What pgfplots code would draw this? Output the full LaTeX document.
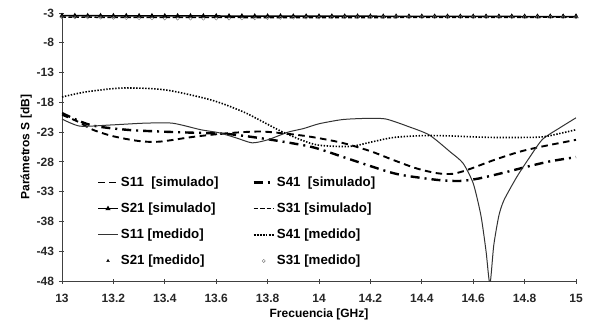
\documentclass[border=0pt]{standalone}
\usepackage{fontspec}
\setmainfont{Liberation Sans}
\usepackage{pgfplots}
\pgfplotsset{compat=1.18}
\begin{document}
\begin{tikzpicture}
\begin{axis}[
  scale only axis, width=514pt, height=268pt,
  xmin=13, xmax=15, ymin=-48, ymax=-3,
  axis x line*=bottom, axis y line*=left,
  axis line style={-, draw=black!75, line width=0.8pt},
  xtick={13,13.2,13.4,13.6,13.8,14,14.2,14.4,14.6,14.8,15},
  ytick={-48,-43,-38,-33,-28,-23,-18,-13,-8,-3},
  tick align=center, major tick length=5pt,
  tick style={draw=black!75, line width=0.8pt},
  ticklabel style={font=\fontsize{12}{14}\selectfont\bfseries, text=black!85},
  /pgf/number format/assume math mode=true,
  xticklabel style={yshift=-7pt},
  yticklabel style={xshift=-2pt},
  xlabel={Frecuencia [GHz]},
  ylabel={Parámetros S [dB]},
  label style={font=\fontsize{12}{14}\selectfont\bfseries},
  xlabel style={yshift=1pt},
  ylabel style={yshift=-2pt},
  clip=true,
  legend columns=2,
  legend cell align=left,
  legend style={draw=none, fill=none, at={(0.062,0.404)}, anchor=north west,
    font=\fontsize{13.3}{15}\selectfont\bfseries,
    row sep=11pt,
    /tikz/every even column/.append style={column sep=32pt}},
  legend image code/.code={\draw[mark repeat=2,mark phase=2,#1] plot coordinates {(0pt,0pt) (10pt,0pt) (20pt,0pt)};},
]
% S11 simulado
\addplot[black, line width=1.9pt, dash pattern=on 6.5pt off 4.5pt, smooth] coordinates {
(13.00,-20.1) (13.06,-21.2) (13.12,-22.6) (13.20,-23.7) (13.30,-24.5) (13.38,-24.6)
(13.51,-23.8) (13.64,-23.2) (13.77,-22.9) (13.88,-23.3) (13.97,-23.8) (14.09,-24.8)
(14.20,-26.2) (14.29,-27.7) (14.38,-29.1) (14.46,-29.9) (14.52,-30.0) (14.58,-29.3)
(14.68,-27.7) (14.78,-26.3) (14.87,-25.4) (15.00,-24.3)};
% S41 simulado
\addplot[black, line width=2.4pt, dash pattern=on 9pt off 5pt on 2pt off 5pt, smooth] coordinates {
(13.00,-19.8) (13.11,-21.8) (13.25,-22.6) (13.38,-22.9) (13.51,-23.1) (13.64,-23.3)
(13.77,-24.0) (13.90,-24.9) (13.99,-25.7) (14.13,-27.7) (14.29,-29.9) (14.40,-30.7)
(14.48,-31.1) (14.55,-31.2) (14.62,-30.8) (14.72,-29.8) (14.81,-28.8) (14.90,-27.9)
(15.00,-27.2)};
% S21 simulado
\addplot[black, line width=1.5pt, mark=triangle*, mark size=1.5pt, mark options={solid}] coordinates {
(13.00,-3.45) (13.05,-3.45) (13.10,-3.46) (13.15,-3.46) (13.20,-3.47) (13.25,-3.47)
(13.30,-3.48) (13.35,-3.48) (13.40,-3.49) (13.45,-3.49) (13.50,-3.50) (13.55,-3.50)
(13.60,-3.50) (13.65,-3.51) (13.70,-3.51) (13.75,-3.52) (13.80,-3.52) (13.85,-3.52)
(13.90,-3.53) (13.95,-3.53) (14.00,-3.53) (14.05,-3.53) (14.10,-3.54) (14.15,-3.54)
(14.20,-3.54) (14.25,-3.55) (14.30,-3.55) (14.35,-3.55) (14.40,-3.56) (14.45,-3.56)
(14.50,-3.56) (14.55,-3.57) (14.60,-3.57) (14.65,-3.58) (14.70,-3.58) (14.75,-3.58)
(14.80,-3.59) (14.85,-3.59) (14.90,-3.60) (14.95,-3.60) (15.00,-3.60)};
% S31 simulado
\addplot[black, line width=1.5pt, dash pattern=on 4pt off 2.5pt] coordinates {
(13.00,-3.70) (13.20,-3.72) (13.40,-3.74) (13.60,-3.75) (13.80,-3.76) (14.00,-3.76)
(14.20,-3.76) (14.40,-3.75) (14.60,-3.74) (14.80,-3.72) (15.00,-3.70)};
% S11 medido
\addplot[black!80, line width=1pt, smooth, tension=0.4] coordinates {
(13.00,-20.8) (13.07,-22.0) (13.19,-21.8) (13.32,-21.5) (13.43,-21.5) (13.54,-22.6)
(13.61,-23.1) (13.68,-24.0) (13.74,-24.8) (13.80,-24.3) (13.88,-23.0) (13.94,-22.4)
(14.00,-21.6) (14.09,-20.9) (14.18,-20.7) (14.26,-20.8) (14.35,-22.1) (14.43,-23.5)
(14.51,-26.3) (14.56,-28.2) (14.60,-31.6) (14.63,-37.0) (14.65,-43.0) (14.665,-48.5)
(14.68,-42.0) (14.70,-37.0) (14.72,-34.4) (14.77,-30.5) (14.82,-27.2) (14.87,-24.2)
(14.94,-22.2) (15.00,-20.6)};
% S41 medido
\addplot[black, line width=1.6pt, dash pattern=on 1.4pt off 1.6pt, smooth] coordinates {
(13.00,-17.1) (13.10,-16.2) (13.24,-15.6) (13.40,-15.9) (13.58,-17.6) (13.70,-19.5)
(13.77,-21.0) (13.85,-22.8) (13.93,-24.3) (14.00,-25.2) (14.12,-25.4) (14.20,-24.7)
(14.29,-23.9) (14.40,-23.6) (14.48,-23.6) (14.60,-23.8) (14.68,-23.9) (14.78,-23.9)
(14.87,-23.8) (14.95,-23.1) (15.00,-22.6)};
% S21 medido
\addplot[only marks, black, mark=triangle*, mark size=1.6pt] coordinates {
(13.00,-3.55) (13.05,-3.56) (13.10,-3.56) (13.15,-3.57) (13.20,-3.57) (13.25,-3.58)
(13.30,-3.58) (13.35,-3.59) (13.40,-3.59) (13.45,-3.60) (13.50,-3.60) (13.55,-3.60)
(13.60,-3.61) (13.65,-3.61) (13.70,-3.61) (13.75,-3.61) (13.80,-3.61) (13.85,-3.60)
(13.90,-3.60) (13.95,-3.60) (14.00,-3.59) (14.05,-3.59) (14.10,-3.58) (14.15,-3.58)
(14.20,-3.57) (14.25,-3.57) (14.30,-3.56) (14.35,-3.55) (14.40,-3.54) (14.45,-3.53)
(14.50,-3.52) (14.55,-3.51) (14.60,-3.50) (14.65,-3.49) (14.70,-3.47) (14.75,-3.46)
(14.80,-3.45) (14.85,-3.44) (14.90,-3.43) (14.95,-3.42) (15.00,-3.41)};
% S31 medido
\addplot[only marks, black!55, mark=o, mark size=1.6pt] coordinates {
(13.00,-3.70) (13.05,-3.72) (13.10,-3.74) (13.15,-3.77) (13.20,-3.80) (13.25,-3.83)
(13.30,-3.86) (13.35,-3.89) (13.40,-3.91) (13.45,-3.93) (13.50,-3.94) (13.55,-3.94)
(13.60,-3.93) (13.65,-3.92) (13.70,-3.90) (13.75,-3.87) (13.80,-3.84) (13.85,-3.81)
(13.90,-3.78) (13.95,-3.76) (14.00,-3.74) (14.05,-3.73) (14.10,-3.72) (14.15,-3.71)
(14.20,-3.71) (14.25,-3.70) (14.30,-3.70) (14.35,-3.70) (14.40,-3.70) (14.45,-3.70)
(14.50,-3.70) (14.55,-3.70) (14.60,-3.70) (14.65,-3.70) (14.70,-3.70) (14.75,-3.70)
(14.80,-3.70) (14.85,-3.70) (14.90,-3.70) (14.95,-3.70) (15.00,-3.70)};
\legend{S11\ \ [simulado], S41\ \ [simulado], S21 [simulado], S31 [simulado],
        S11 [medido], S41 [medido], S21 [medido], S31 [medido]}
\end{axis}
\pgfresetboundingbox
\path (-62pt,-44pt) rectangle (531pt,281pt);
\end{tikzpicture}
\end{document}
